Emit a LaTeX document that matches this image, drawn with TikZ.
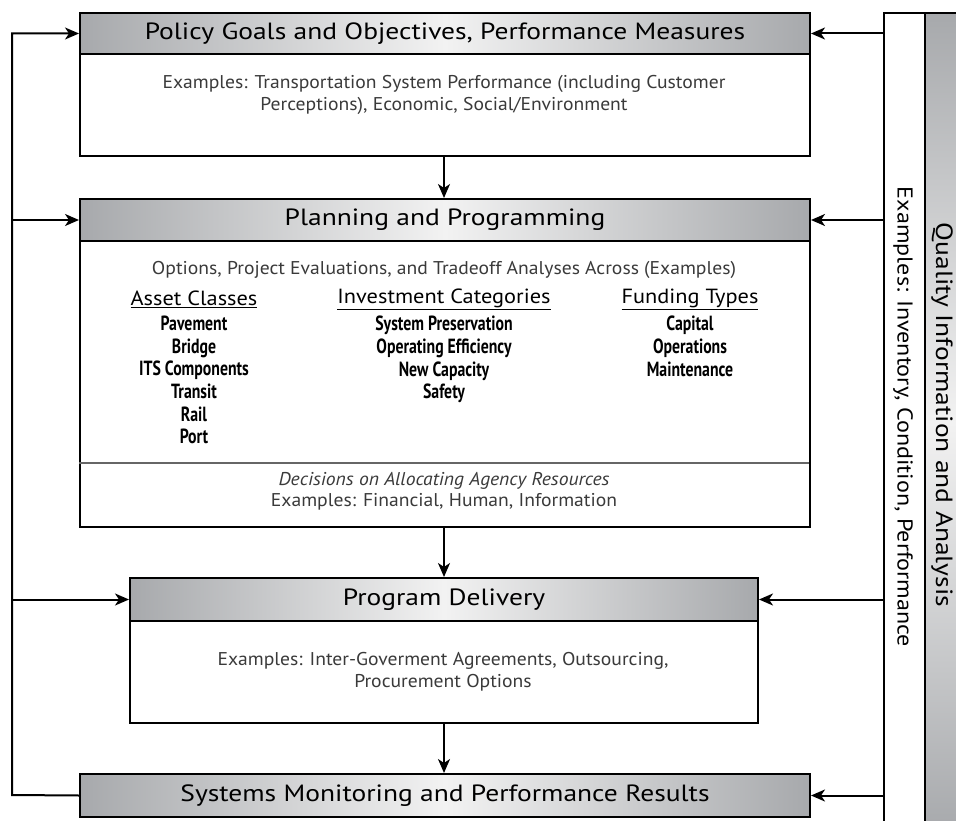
\documentclass[tikz,border=0pt]{standalone}
\usepackage{fontspec}
\setmainfont{PT Sans}
\newfontfamily\hdrfont[FakeStretch=1.17]{PT Sans}
\newfontfamily\bodyfont[FakeStretch=1.06]{PT Sans}
\newfontfamily\colfont[FakeStretch=1.09]{PT Sans}
\newfontfamily\sidefont[FakeStretch=1.12]{PT Sans}
\newfontfamily\condfont[FakeStretch=0.77]{PT Sans}
\usetikzlibrary{arrows.meta}
\definecolor{hdrgray}{HTML}{A7A9AC}
\definecolor{hdrlight}{HTML}{F2F2F2}
\definecolor{bodytext}{HTML}{3A3A3A}
\tikzset{
  box/.style={draw=black, line width=2pt, fill=white, rectangle, inner sep=0pt},
  hdr/.style={draw=black, line width=2pt, rectangle, inner sep=0pt,
     left color=hdrgray, right color=hdrgray, middle color=hdrlight,
     font=\fontsize{23.5}{26}\hdrfont},
  bodytxt/.style={align=center, text=bodytext, font=\fontsize{18.5}{21.5}\bodyfont, inner sep=0pt},
  colhead/.style={align=center, font=\fontsize{20.5}{22}\colfont, inner sep=0pt},
  items/.style={align=center, font=\fontsize{20.5}{22.6}\condfont\bfseries, inner sep=0pt, anchor=north},
  arr/.style={line width=2pt, -{Stealth[length=14pt,width=12pt,inset=4pt]}},
  ln/.style={line width=2pt}
}
\begin{document}
\begin{tikzpicture}[x=1pt,y=-1pt]
\useasboundingbox (0,0) rectangle (956,821);
\clip (0,0) rectangle (956,821);
% box 1
\node[box, minimum width=730, minimum height=143, anchor=north west] (b1) at (79,12) {};
\node[hdr, minimum width=730, minimum height=41, anchor=north west] (h1) at (79,12) {Policy Goals and Objectives, Performance Measures};
\node[bodytxt] (t1) at (444,95) {Examples: Transportation System Performance (including Customer\\Perceptions), Economic, Social/Environment};
% box 2
\node[box, minimum width=730, minimum height=328, anchor=north west] (b2) at (79,198) {};
\node[hdr, minimum width=730, minimum height=42, anchor=north west] (h2) at (79,198) {Planning and Programming};
\node[bodytxt] (t2) at (444,270) {Options, Project Evaluations, and Tradeoff Analyses Across (Examples)};
\node[colhead] (c1) at (194,299) {\underline{Asset Classes}};
\node[colhead] (c2) at (444,299) {\underline{Investment Categories}};
\node[colhead] (c3) at (690,299) {\underline{Funding Types}};
\node[items] (i1) at (194,316) {Pavement\\Bridge\\ITS Components\\Transit\\Rail\\Port};
\node[items] (i2) at (444,316) {System Preservation\\Operating Efficiency\\New Capacity\\Safety};
\node[items] (i3) at (690,316) {Capital\\Operations\\Maintenance};
\coordinate (sepl) at (79,463);
\coordinate (sepr) at (809,463);
\draw[line width=1.3pt, black!60] (sepl) -- (sepr);
\node[bodytxt] (t3) at (444,491.5) {\itshape Decisions on Allocating Agency Resources\\Examples: Financial, Human, Information};
% box 3
\node[box, minimum width=628, minimum height=145, anchor=north west] (b3) at (129,577) {};
\node[hdr, minimum width=628, minimum height=43, anchor=north west] (h3) at (129,577) {Program Delivery};
\node[bodytxt] (t4) at (443,672) {Examples: Inter-Goverment Agreements, Outsourcing,\\Procurement Options};
% box 4
\node[hdr, minimum width=730, minimum height=43, anchor=north west] (h4) at (79,773) {Systems Monitoring and Performance Results};
% right side
\node[box, minimum width=41, minimum height=820, anchor=north west] (strip) at (883,12) {};
\node[draw=black, line width=2pt, rectangle, inner sep=0pt, minimum width=40, minimum height=820, anchor=north west,
      top color=hdrgray, bottom color=hdrgray, middle color=hdrlight] (qbar) at (924,12) {};
\node[rotate=-90, font=\fontsize{23.5}{26}\hdrfont, inner sep=0pt] (qtxt) at (942,415) {Quality Information and Analysis};
\node[rotate=-90, font=\fontsize{21.5}{24}\sidefont, inner sep=0pt] (etxt) at (903,417) {Examples: Inventory, Condition, Performance};
% vertical flow arrows
\draw[arr] (b1.south -| t1) -- (h2.north -| t1);
\draw[arr] (b2.south -| t1) -- (h3.north -| t1);
\draw[arr] (b3.south -| t1) -- (h4.north -| t1);
% left feedback loop
\coordinate (L) at (12,795);
\draw[arr] (h4.west) -- (L) |- (h1.west);
\draw[arr] (h2.west -| L) -- (h2.west);
\draw[arr] (h3.west -| L) -- (h3.west);
% right info arrows
\draw[arr] (h1.east -| strip.west) -- (h1.east);
\draw[arr] (h2.east -| strip.west) -- (h2.east);
\draw[arr] (h3.east -| strip.west) -- (h3.east);
\draw[arr] (h4.east -| strip.west) -- (h4.east);
\end{tikzpicture}
\end{document}
